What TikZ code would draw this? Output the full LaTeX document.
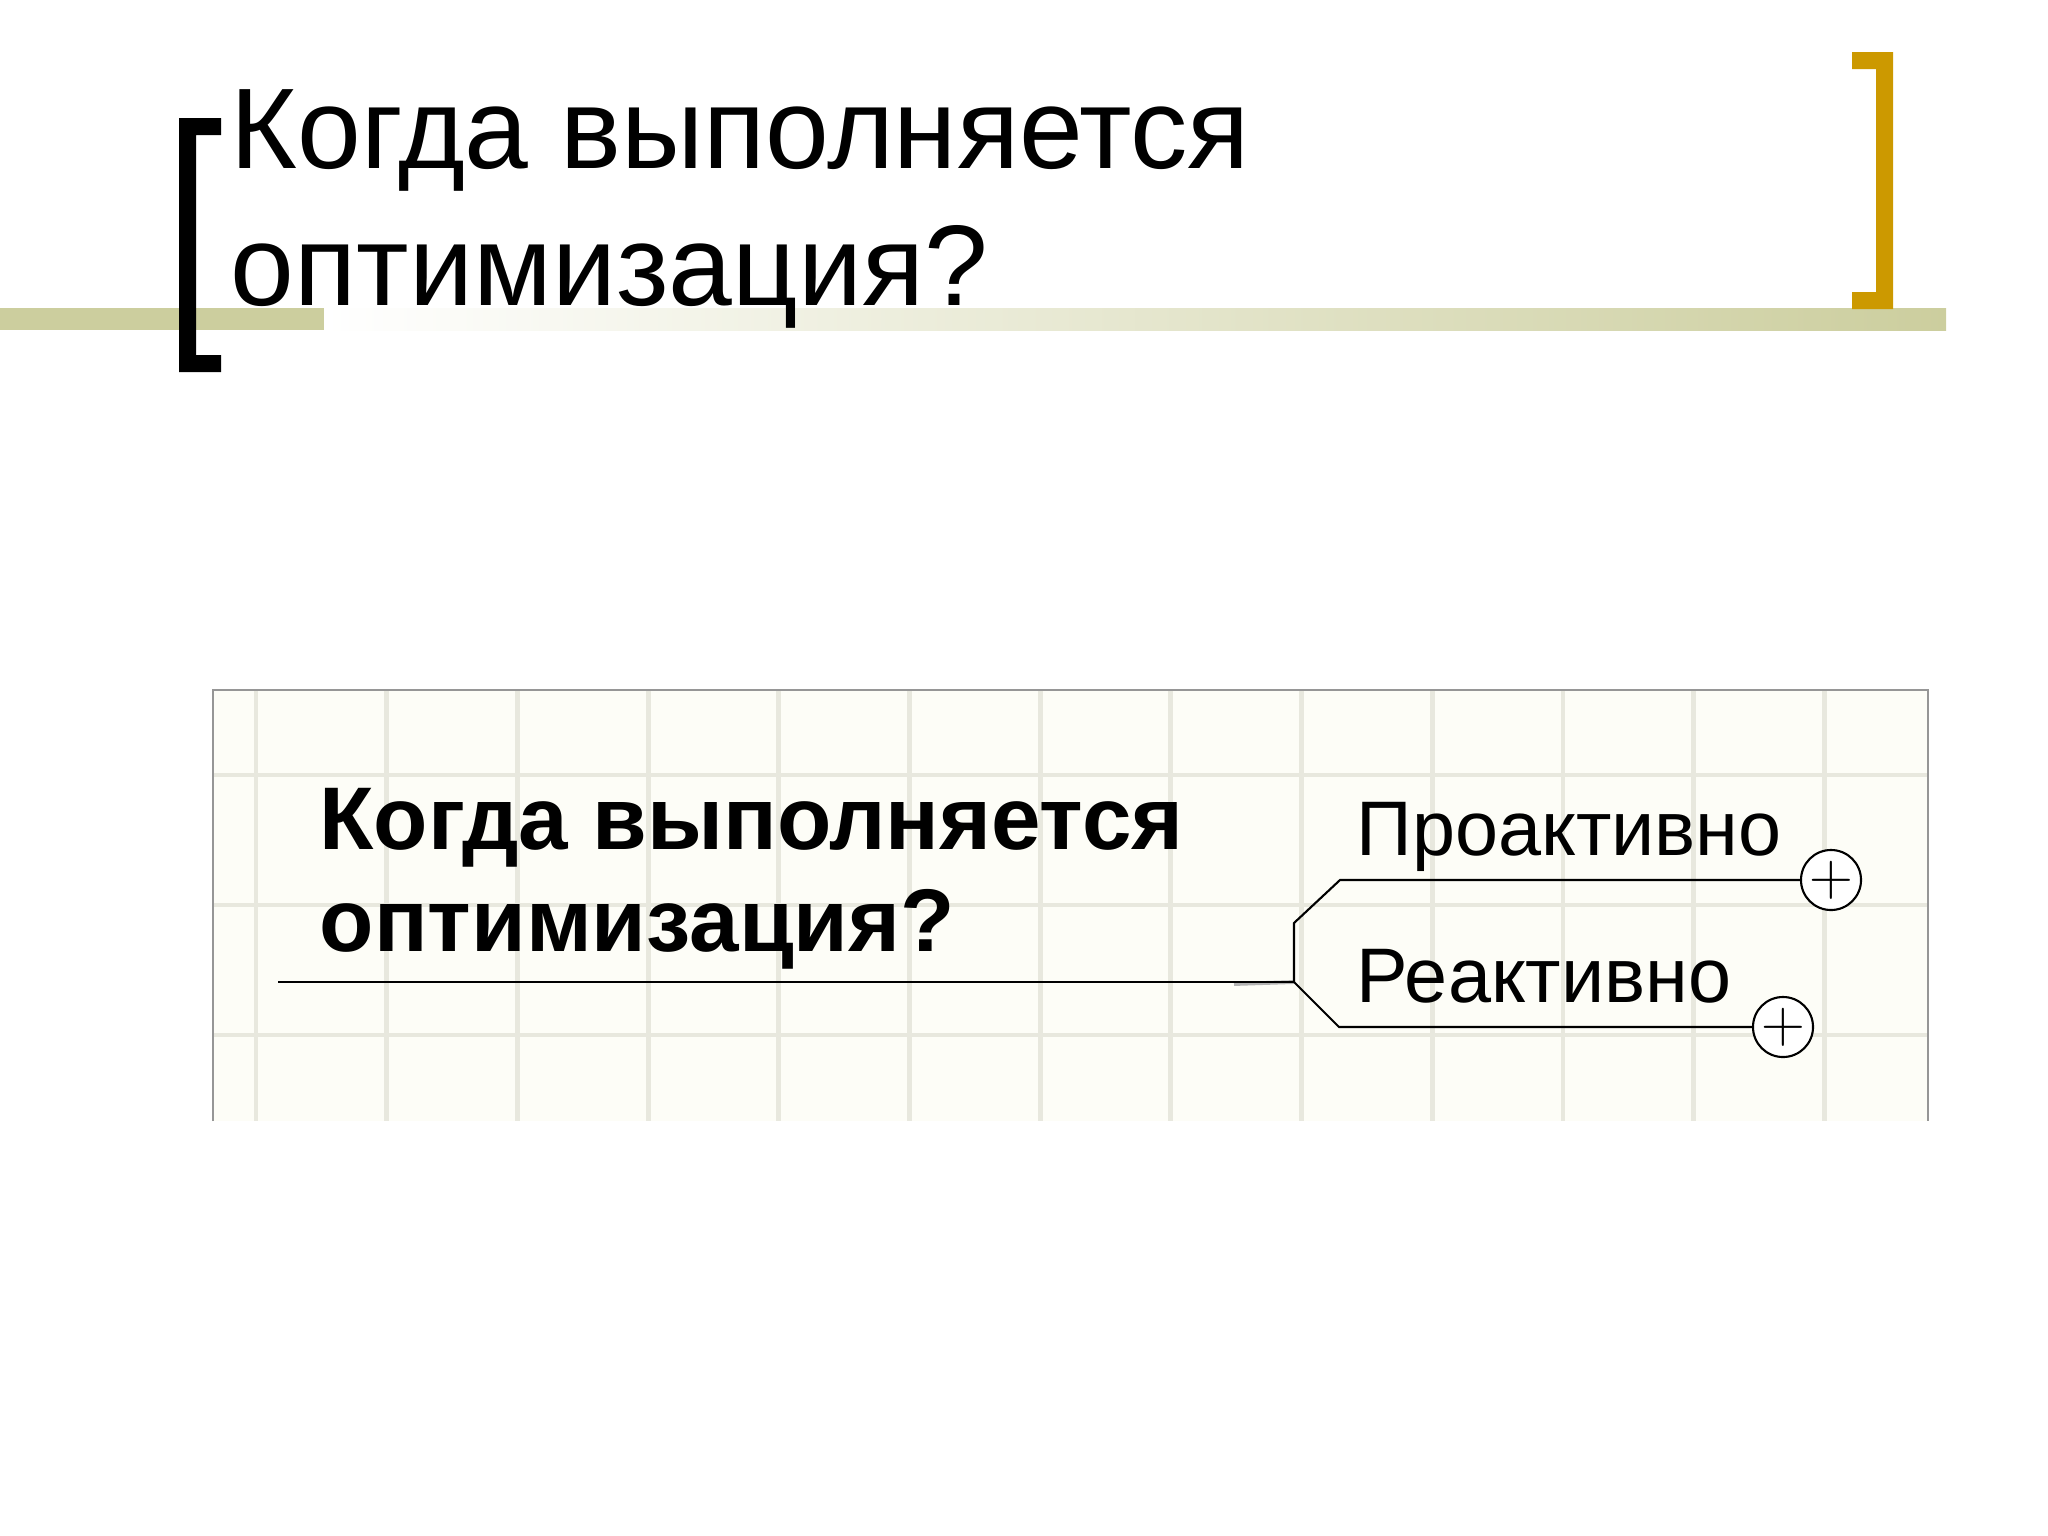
\documentclass[tikz,border=0pt]{standalone}
\usepackage{fontspec}
\setmainfont{Liberation Sans}
\definecolor{olivebar}{RGB}{204,206,158}
\definecolor{goldbracket}{RGB}{204,153,0}
\definecolor{panelbg}{RGB}{253,253,247}
\definecolor{gridline}{RGB}{232,232,222}
\definecolor{panelframe}{RGB}{150,150,150}
\def\gridstep{130.7}

\begin{document}
\begin{tikzpicture}[x=0.01cm, y=-0.01cm]
	\tikzstyle{title text}=[anchor=base west, inner sep=0pt, font=\fontsize{32.6pt}{39pt}\selectfont]
	\tikzstyle{topic}=[anchor=base west, inner sep=0pt, font=\bfseries\fontsize{25.3pt}{29pt}\selectfont]
	\tikzstyle{subtopic}=[anchor=base west, inner sep=0pt, font=\fontsize{22pt}{26pt}\selectfont]
	\tikzstyle{expander}=[circle, draw=black, fill=white, line width=0.6pt, minimum size=0.6cm, inner sep=0pt, font=\fontsize{16pt}{16pt}\selectfont]
	\tikzstyle{branch}=[draw=black, line width=0.6pt]
	\tikzstyle{grid line}=[draw=gridline, line width=1.4pt]

	\useasboundingbox (0,0) rectangle (2048,1536);

	% Draw the title bar
	\fill[olivebar] (0,308) rectangle (324,330);
	\shade[left color=white, right color=olivebar] (324,308) rectangle (1946,330);

	% Draw the brackets
	\fill[black] (179,118) -- (221,118) -- (221,135) -- (196,135) -- (196,355) -- (221,355) -- (221,372) -- (179,372) -- cycle;
	\fill[goldbracket] (1893,52) -- (1852,52) -- (1852,69) -- (1876,69) -- (1876,292) -- (1852,292) -- (1852,309) -- (1893,309) -- cycle;

	% Draw the title
	\node[title text] (title_1) at (230,168) {Когда выполняется};
	\node[title text] (title_2) at (230,305) {оптимизация?};

	% Draw the map panel
	\fill[panelbg] (213,690) rectangle (1928,1121);
	\foreach \i in {0,...,12}
		\path[grid line] (256+\i*\gridstep,690) -- (256+\i*\gridstep,1121);
	\foreach \y in {775,905,1035}
		\path[grid line] (213,\y) -- (1928,\y);
	\draw[panelframe, line width=0.6pt] (213,1121) -- (213,690) -- (1928,690) -- (1928,1121);

	% Draw the central topic
	\node[topic] (topic_1) at (319,849) {Когда выполняется};
	\node[topic] (topic_2) at (319,951) {оптимизация?};
	\coordinate (root) at (278,982);
	\coordinate (hub) at (1294,982);
	\draw[gray!60, line width=1.1pt] (1234,984) -- (hub);
	\path[branch] (root) -- (hub);

	% Draw the subtopics
	\node[subtopic] (proactive) at (1356,855) {Проактивно};
	\node[subtopic] (reactive) at (1356,1002) {Реактивно};
	\node[expander] (proactive_plus) at (1831,880) {$+$};
	\node[expander] (reactive_plus) at (1783,1027) {$+$};

	% Draw branches
	\path[branch] (hub) -- (1294,923) -- (1340,880) -- (proactive_plus);
	\path[branch] (hub) -- (1339,1027) -- (reactive_plus);
\end{tikzpicture}
\end{document}
